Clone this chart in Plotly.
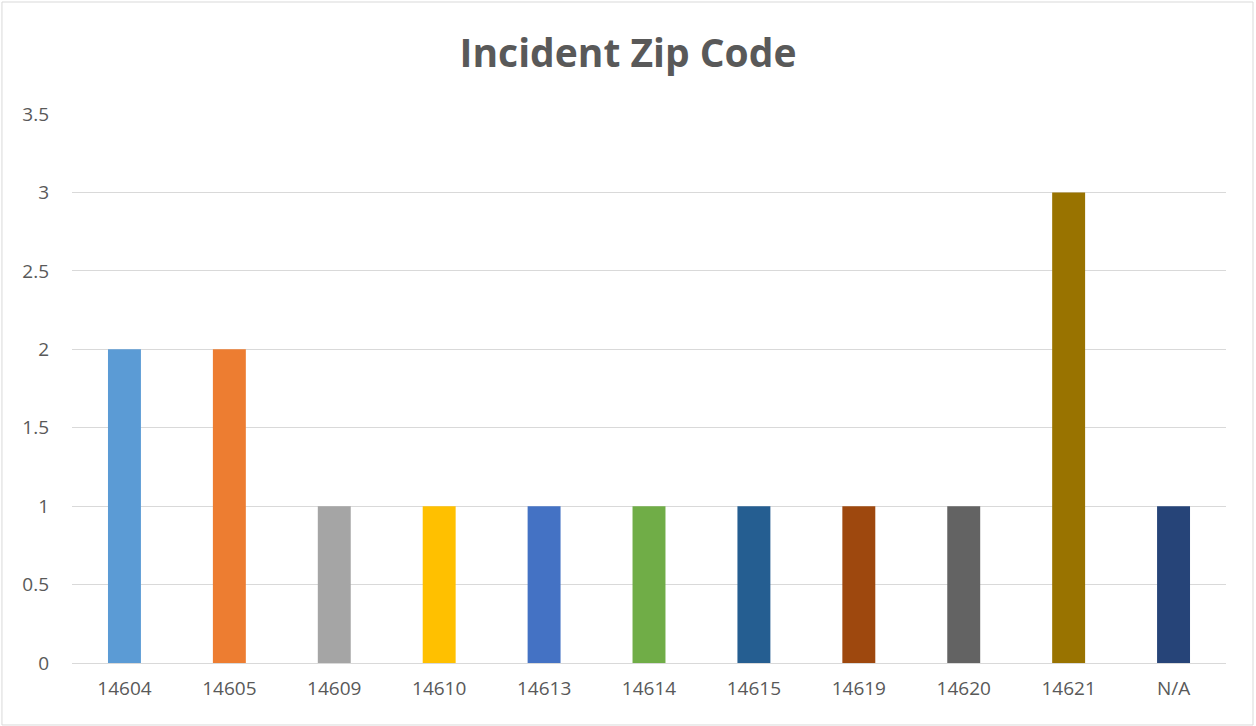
import plotly.graph_objects as go

# Datos del gráfico
zip_codes = ["14604", "14605", "14609", "14610", "14613", "14614",
             "14615", "14619", "14620", "14621", "N/A"]
incidents = [2, 2, 1, 1, 1, 1, 1, 1, 1, 3, 1]
bar_colors = ["#5B9BD5", "#ED7D31", "#A5A5A5", "#FFC000", "#4472C4", "#70AD47",
              "#255E91", "#9E480E", "#636363", "#997300", "#264478"]
y_ticks = [0, 0.5, 1, 1.5, 2, 2.5, 3, 3.5]

fig = go.Figure()

fig.add_trace(
    go.Bar(
        x=zip_codes,
        y=incidents,
        marker_color=bar_colors,
        marker_line_width=0,
    )
)

fig.update_layout(
    title=dict(
        text="<b>Incident Zip Code</b>",
        x=0.5,
        xanchor="center",
        y=0.926,
        yanchor="middle",
        font=dict(family="Open Sans", size=39, color="#595959"),
    ),
    autosize=False,
    width=1256,
    height=726,
    margin=dict(l=72, r=30, t=114, b=63, pad=0),
    paper_bgcolor="white",
    plot_bgcolor="white",
    bargap=0.686,
    showlegend=False,
    font=dict(family="Open Sans", size=19, color="#595959"),
)

fig.update_xaxes(
    showgrid=False,
    showline=True,
    linecolor="#D9D9D9",
    linewidth=1,
    ticks="",
    ticklabelstandoff=8,
    tickfont=dict(size=19, color="#595959"),
)

fig.update_yaxes(
    range=[0, 3.5],
    tickvals=y_ticks,
    ticktext=[f"{v:g}" for v in y_ticks],
    showgrid=True,
    gridcolor="#D9D9D9",
    gridwidth=1,
    zeroline=False,
    showline=False,
    ticks="",
    ticklabelstandoff=22,
    tickfont=dict(size=19, color="#595959"),
)

# Borde del gráfico
fig.add_shape(
    type="rect",
    xref="paper", yref="paper",
    x0=-0.0607, x1=1.0234, y0=-0.1129, y1=1.204,
    line=dict(color="#D9D9D9", width=1),
    fillcolor="rgba(0,0,0,0)",
    layer="below",
)

# Quitar el margen del body para que la figura empiece en (0, 0)
fig.write_html(
    "out.html",
    config={"displayModeBar": False},
    post_script="document.body.style.margin='0';",
)
